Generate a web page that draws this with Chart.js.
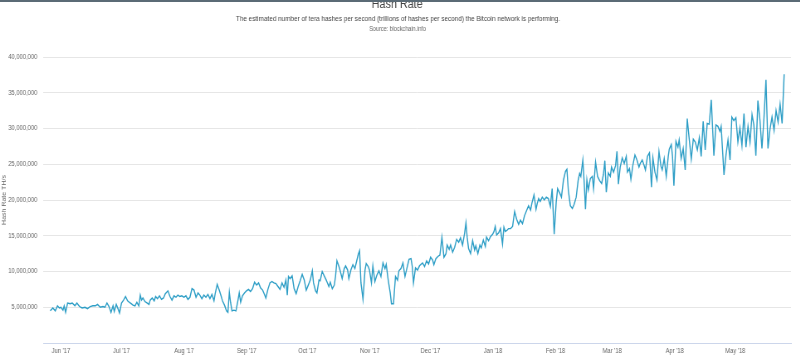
<!DOCTYPE html>
<html>
<head>
<meta charset="utf-8">
<script src="https://cdn.jsdelivr.net/npm/chart.js@4/dist/chart.umd.min.js"></script>
<style>
  html, body { margin: 0; padding: 0; background: #ffffff; }
  #wrap { position: relative; width: 800px; height: 356px; overflow: hidden; }
  #squeeze { position: absolute; left: 0; top: 0; width: 964px; height: 356px; transform: scaleX(0.83); transform-origin: 0 0; }
  #topbar { position: absolute; left: 0; top: 0; width: 800px; height: 2px; background: #5b6b76; }
  canvas { display: block; }
</style>
</head>
<body>
<div id="wrap"><div id="squeeze"><canvas id="c" width="964" height="356"></canvas></div><div id="topbar"></div></div>
<script>
// ---- data (days after 1 Jun 2017, hash rate in millions of TH/s) ----
const dayOffsets = [
  -5.3,-4.0,-2.8,-1.7,-0.8,0.0,1.0,1.6,2.3,3.3,4.6,5.6,6.9,7.9,9.2,10.5,11.9,13.2,14.5,15.8,
  17.1,18.1,19.5,20.8,21.8,22.8,23.8,24.8,25.8,26.4,27.4,28.4,29.0,30.0,31.0,32.0,33.0,34.3,35.7,36.7,
  37.6,38.6,39.3,39.9,40.6,41.6,42.6,43.6,44.2,45.2,46.2,46.9,47.8,48.8,49.8,50.8,51.7,53.0,54.0,55.0,
  56.0,57.0,57.9,58.9,59.9,60.9,61.9,62.9,63.9,64.9,65.9,66.9,67.9,68.8,69.8,70.8,71.8,72.8,73.8,74.8,
  75.8,76.4,77.4,78.4,79.4,80.0,81.0,82.0,82.7,83.4,84.0,84.7,85.7,86.7,87.7,88.3,89.0,89.9,90.9,91.9,
  92.9,93.9,94.9,95.9,96.9,97.9,98.9,99.9,100.5,101.5,102.5,103.5,104.5,105.5,106.5,107.5,108.5,109.5,110.5,111.4,
  112.1,112.7,113.5,114.5,115.5,116.5,117.5,118.5,119.5,120.5,121.5,122.5,123.5,124.5,125.1,126.1,126.8,127.8,128.4,129.4,
  130.4,131.4,132.0,132.7,133.4,134.4,135.4,136.0,136.7,137.7,138.3,139.3,140.3,141.0,142.0,142.6,143.6,144.6,145.6,146.6,
  147.3,147.9,148.6,149.6,150.6,151.2,152.2,152.8,153.8,154.5,155.5,156.5,157.5,158.5,159.5,160.5,161.1,162.1,163.1,163.7,
  164.7,165.7,166.7,167.4,168.4,169.4,170.4,171.4,172.4,173.4,174.0,174.6,175.6,176.6,177.6,179.1,180.1,181.1,182.1,183.1,
  184.1,184.7,185.7,186.7,187.7,188.7,189.7,190.7,191.3,192.3,193.0,194.0,195.0,196.0,197.0,197.9,198.9,199.9,200.6,201.2,
  201.9,202.9,203.9,204.9,205.5,206.5,207.5,208.2,209.2,210.2,210.8,211.8,212.8,213.8,214.5,215.1,215.8,216.8,217.7,218.7,
  219.4,220.1,221.1,221.7,222.7,223.7,224.7,225.7,226.7,227.6,228.6,229.6,230.6,231.6,232.6,233.3,234.3,235.3,235.9,236.6,
  237.4,238.4,239.4,240.4,241.4,242.4,243.3,244.3,245.3,246.0,247.0,247.9,248.9,249.9,250.6,251.3,252.3,253.3,254.2,255.2,
  256.2,256.9,257.5,258.5,259.2,259.8,260.5,261.2,262.2,263.2,263.8,264.8,265.8,266.8,267.8,268.7,269.4,270.1,271.1,272.1,
  272.7,273.7,274.7,275.4,276.1,277.0,278.0,279.0,280.0,280.6,281.6,282.3,283.3,284.3,285.3,286.3,286.9,287.9,288.9,289.5,
  290.5,291.5,292.5,293.2,294.2,295.2,296.2,297.2,297.8,298.8,299.8,300.8,301.3,302.3,302.9,303.6,304.6,305.6,306.2,307.2,
  308.2,309.2,310.2,311.2,312.2,313.2,314.2,315.2,316.2,317.1,318.1,319.1,320.1,321.1,322.1,323.4,324.4,325.4,326.4,327.0,
  328.4,329.4,330.4,331.4,332.3,333.3,334.3,335.3,336.3,337.3,338.3,339.3,340.3,341.3,342.3,343.2,344.2,345.2,346.2,347.2,
  348.2,349.2,350.2,351.2,352.2,353.2,354.2,355.2,356.2,357.2,358.2
];
const hashRateMillions = [
  4.5,4.9,4.5,5.2,4.9,5.0,4.6,5.2,4.3,5.6,5.5,5.6,5.2,5.6,5.1,4.9,5.0,4.8,5.1,5.2,
  5.2,5.4,5.0,5.1,5.0,5.6,5.1,4.3,5.2,4.4,5.4,4.7,4.2,5.6,6.0,6.5,5.9,5.6,5.3,5.2,
  5.7,5.2,6.7,6.0,6.3,5.8,5.6,5.4,6.0,6.3,5.9,6.5,6.2,6.6,6.1,6.3,6.9,7.3,6.5,6.0,
  6.6,6.4,6.7,6.5,6.6,6.4,6.6,6.1,6.4,7.6,7.4,6.4,7.0,6.7,6.2,6.7,6.4,6.8,6.2,6.8,
  5.9,6.9,8.2,7.4,6.5,5.9,5.3,4.5,4.3,7.1,5.7,4.5,4.6,4.5,6.0,7.0,5.7,6.6,7.0,7.3,
  7.5,7.2,7.6,8.5,8.1,8.4,7.7,7.4,7.0,6.3,7.5,8.4,8.6,8.4,8.3,7.9,7.5,8.4,7.8,8.8,
  6.7,9.3,9.0,9.4,7.6,6.9,7.9,8.7,9.6,8.8,7.4,8.1,8.8,10.1,8.4,7.3,7.0,8.8,8.7,10.0,
  9.4,8.8,8.4,7.9,8.5,7.6,8.1,9.3,11.5,10.7,10.1,9.0,10.4,10.8,10.2,9.0,10.2,10.95,10.4,11.6,
  12.45,12.9,8.4,6.1,10.2,11.1,10.7,10.2,8.4,10.8,8.6,9.5,10.1,9.3,11.2,10.4,11.0,8.8,7.0,5.5,
  5.5,9.3,8.8,10.1,10.4,11.2,9.3,10.5,11.7,11.8,10.7,8.4,10.5,10.2,10.8,11.2,10.7,11.5,11.05,12.0,
  11.6,10.95,11.8,12.1,12.3,14.8,12.0,12.5,13.7,13.1,13.7,12.7,13.4,14.5,14.1,14.7,13.7,15.3,16.8,14.8,
  13.2,12.5,14.3,13.0,13.6,12.5,13.7,13.3,14.4,13.5,14.8,14.3,14.9,15.2,15.6,16.3,15.1,15.4,16.0,13.85,
  16.2,15.6,15.8,16.0,16.0,16.3,18.4,17.3,16.6,17.2,16.7,17.8,18.5,19.2,18.6,19.6,20.7,18.7,19.5,20.2,
  19.8,20.4,20.0,20.4,20.2,19.1,21.6,15.2,19.7,21.6,21.0,20.4,22.8,24.0,24.3,21.4,19.2,18.8,19.4,20.4,
  22.8,23.7,23.3,25.6,22.3,18.7,22.8,21.4,23.0,23.3,21.6,25.3,23.3,22.7,22.3,23.6,25.5,21.1,23.8,23.3,
  24.6,23.9,24.8,26.8,22.2,24.6,25.9,25.1,26.1,23.9,24.4,22.9,24.9,26.3,25.6,24.6,25.1,25.6,24.8,24.2,
  26.1,26.6,21.8,25.9,23.9,22.8,26.8,24.7,24.2,25.8,23.3,26.1,27.1,27.75,26.1,22.0,28.2,27.4,28.4,25.8,
  27.2,24.2,31.4,28.5,25.7,28.5,28.1,27.0,28.7,26.1,31.0,27.0,30.7,30.6,34.0,26.2,30.5,30.3,29.6,30.3,
  23.5,26.3,28.4,25.6,31.6,31.1,31.5,28.1,30.1,27.6,32.1,27.4,30.3,28.1,31.95,30.5,26.2,33.9,31.2,27.2,
  31.4,36.8,27.2,29.9,31.6,29.7,32.5,30.9,33.4,30.7,37.6
];
const UNIT = 1000000;

// ---- axis ticks ----
const monthTickDays = [0, 30, 61, 92, 122, 153, 183, 214, 245, 273, 304, 334];
const monthTickLabels = ["Jun '17", "Jul '17", "Aug '17", "Sep '17", "Oct '17", "Nov '17",
                         "Dec '17", "Jan '18", "Feb '18", "Mar '18", "Apr '18", "May '18"];
const yTickValues = [0, 5000000, 10000000, 15000000, 20000000, 25000000, 30000000, 35000000, 40000000];

const titleText = "Hash Rate";
const subtitleText = "The estimated number of tera hashes per second (trillions of hashes per second) the Bitcoin network is performing.";
const sourceText = "Source: blockchain.info";
const yAxisTitle = "Hash Rate TH/s";

const FONT = "'Liberation Sans', Arial, sans-serif";

const points = dayOffsets.map((d, i) => ({ x: d, y: hashRateMillions[i] * UNIT }));

const headerPlugin = {
  id: 'header',
  afterDraw(chart) {
    const ctx = chart.ctx;
    ctx.save();
    ctx.textAlign = 'center';
    ctx.fillStyle = '#444';
    ctx.font = '13px ' + FONT;
    ctx.textBaseline = 'alphabetic';
    ctx.fillText(titleText, 478.5, 8);
    ctx.fillStyle = '#444';
    ctx.font = '7.7px ' + FONT;
    ctx.textBaseline = 'middle';
    ctx.fillText(subtitleText, 479.5, 19);
    ctx.fillStyle = '#666';
    ctx.font = '6.6px ' + FONT;
    ctx.fillText(sourceText, 479, 29);
    ctx.restore();
  }
};

new Chart(document.getElementById('c'), {
  type: 'line',
  data: {
    datasets: [{
      data: points,
      borderColor: '#2e9ec6',
      borderWidth: 1.4,
      pointRadius: 0,
      tension: 0,
      fill: false
    }]
  },
  options: {
    responsive: false,
    animation: false,
    layout: { padding: { top: 57, right: 11, left: 0, bottom: 0 } },
    plugins: { legend: { display: false }, tooltip: { enabled: false }, title: { display: false } },
    scales: {
      x: {
        type: 'linear',
        min: -8.8,
        max: 361.6,
        afterBuildTicks(scale) { scale.ticks = monthTickDays.map(v => ({ value: v })); },
        afterFit(scale) { scale.height = 13; },
        ticks: {
          autoSkip: false,
          maxRotation: 0,
          padding: 4,
          color: '#666',
          font: { family: FONT, size: 7 },
          callback(value) {
            const i = monthTickDays.indexOf(value);
            return i >= 0 ? monthTickLabels[i] : '';
          }
        },
        grid: { display: true, drawOnChartArea: false, drawTicks: false },
        border: { display: true, color: '#ccd6eb', width: 1 }
      },
      y: {
        min: 0,
        max: 40000000,
        afterBuildTicks(scale) { scale.ticks = yTickValues.map(v => ({ value: v })); },
        afterFit(scale) { scale.width = 52; },
        ticks: {
          padding: 7,
          color: '#666',
          font: { family: FONT, size: 7 },
          callback(value) { return value === 0 ? '' : value.toLocaleString('en-US'); }
        },
        grid: { color: '#e6e6e6', drawTicks: false, lineWidth: 1 },
        border: { display: false },
        title: {
          display: true,
          text: yAxisTitle,
          color: '#666',
          font: { family: FONT, size: 7 },
          padding: { top: 1, bottom: 0 }
        }
      }
    }
  },
  plugins: [headerPlugin]
});
</script>
</body>
</html>
